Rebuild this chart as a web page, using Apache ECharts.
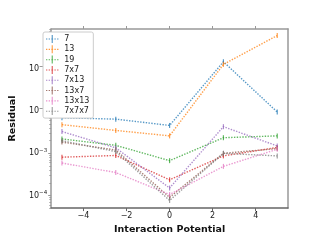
<!DOCTYPE html>
<html><head><meta charset="utf-8">
<script src="https://cdn.jsdelivr.net/npm/echarts@6/dist/echarts.min.js"></script>
<style>html,body{margin:0;padding:0;background:#fff}#c{width:320px;height:240px}</style>
</head><body><div id="c"></div>
<script>
const xValues = [-5, -2.5, 0, 2.5, 5];
const seriesNames = ['7', '13', '19', '7x7', '7x13', '13x7', '13x13', '7x7x7'];
const s7     = [7.0e-3, 6.5e-3, 4.6e-3, 0.15, 9.6e-3];
const s13    = [4.8e-3, 3.5e-3, 2.6e-3, 0.13, 0.63];
const s19    = [2.2e-3, 1.55e-3, 6.7e-4, 2.35e-3, 2.6e-3];
const s7x7   = [8.1e-4, 8.9e-4, 2.35e-4, 8.7e-4, 1.38e-3];
const s7x13  = [3.3e-3, 1.35e-3, 1.5e-4, 4.3e-3, 1.5e-3];
const s13x7  = [1.85e-3, 1.2e-3, 9.0e-5, 1.0e-3, 1.3e-3];
const s13x13 = [5.9e-4, 3.5e-4, 1.05e-4, 4.9e-4, 1.25e-3];
const s7x7x7 = [2.0e-3, 1.1e-3, 7.6e-5, 1.0e-3, 8.7e-4];
const xTicks = [-4, -2, 0, 2, 4];
const yTicks = [1e-4, 1e-3, 1e-2, 1e-1];
const yMinorTicks = [];
[1e-5, 1e-4, 1e-3, 1e-2, 1e-1].forEach(d => { for (let k = 2; k <= 9; k++) yMinorTicks.push(d * k); });

const allData = [s7, s13, s19, s7x7, s7x13, s13x7, s13x13, s7x7x7];
const colors = ['#1f77b4', '#ff7f0e', '#2ca02c', '#d62728', '#9467bd', '#8c564b', '#e377c2', '#7f7f7f'];
const yMin = 5e-5, yMax = 0.9;
const spine = '#999';
const legendIcon = 'path://M0,4h1.5v1.2h-1.5z M3,4h1.5v1.2h-1.5z M6,4h2v1.2h-2z M9.5,4h1.5v1.2h-1.5z M12.5,4h1.5v1.2h-1.5z M6.4,0h1.2v9h-1.2z';

const chart = echarts.init(document.getElementById('c'), null, {renderer: 'canvas'});
chart.setOption({
  animation: false,
  color: colors,
  grid: {left: 40, right: 32, top: 29, bottom: 27},
  legend: {
    orient: 'vertical', left: 43, top: 32,
    itemWidth: 14, itemHeight: 8, itemGap: 2.3,
    padding: [3, 4, 3, 3],
    borderColor: '#ccc', borderWidth: 1, borderRadius: 2,
    backgroundColor: '#fff',
    textStyle: {fontSize: 8, color: '#222', fontFamily: 'DejaVu Sans'},
    data: seriesNames.map(n => ({name: n, icon: legendIcon, itemStyle: {opacity: 0.8}}))
  },
  xAxis: [{
    type: 'value', min: -5.5, max: 5.5,
    name: 'Interaction Potential', nameLocation: 'middle', nameGap: 16,
    nameTextStyle: {fontSize: 9.5, fontWeight: 'bold', color: '#111', fontFamily: 'DejaVu Sans'},
    axisLine: {onZero: false, lineStyle: {color: '#666', width: 1.5}},
    axisTick: {customValues: xTicks, length: 3, lineStyle: {color: '#666'}},
    axisLabel: {customValues: xTicks, fontSize: 8, color: '#222', margin: 4, fontFamily: 'DejaVu Sans',
      formatter: v => (v < 0 ? '\u2212' + Math.abs(v) : String(v))},
    splitLine: {show: false}
  }, {
    type: 'value', min: -5.5, max: 5.5, position: 'top',
    axisLine: {onZero: false, lineStyle: {color: spine, width: 1.5}},
    axisTick: {customValues: xTicks, length: 3, lineStyle: {color: spine}},
    axisLabel: {show: false},
    splitLine: {show: false}
  }],
  yAxis: [{
    type: 'log', logBase: 10, min: yMin, max: yMax,
    name: 'Residual', nameLocation: 'middle', nameGap: 24,
    nameTextStyle: {fontSize: 9.5, fontWeight: 'bold', color: '#111', fontFamily: 'DejaVu Sans'},
    axisLine: {show: true, onZero: false, lineStyle: {color: spine, width: 1.5}},
    axisTick: {customValues: yTicks, length: 3, lineStyle: {color: spine}},
    axisLabel: {customValues: yTicks, margin: 4, fontFamily: 'DejaVu Sans', color: '#222',
      formatter: v => '{b|10}{e|\u2212' + Math.round(-Math.log10(v)) + '}',
      rich: {b: {fontSize: 8, color: '#222'}, e: {fontSize: 5.5, color: '#222', padding: [0, 0, 6, 0]}}},
    splitLine: {show: false}
  }, {
    type: 'log', logBase: 10, min: yMin, max: yMax, position: 'left', offset: 0,
    axisLine: {show: false, onZero: false},
    axisTick: {show: true, customValues: yMinorTicks, length: 1.8, lineStyle: {color: spine}},
    axisLabel: {show: false},
    splitLine: {show: false}
  }, {
    type: 'log', logBase: 10, min: yMin, max: yMax, position: 'right',
    axisLine: {show: true, onZero: false, lineStyle: {color: spine, width: 1.5}},
    axisTick: {show: false}, axisLabel: {show: false}, splitLine: {show: false}
  }],
  series: seriesNames.map((name, i) => ({
    name: name, type: 'line',
    data: xValues.map((x, j) => [x, allData[i][j]]),
    symbol: 'rect', symbolSize: [1.2, 5],
    itemStyle: {color: colors[i], opacity: 0.75},
    lineStyle: {type: 'dotted', width: 1.4, opacity: 0.75},
    emphasis: {disabled: true}
  }))
});
</script></body></html>
